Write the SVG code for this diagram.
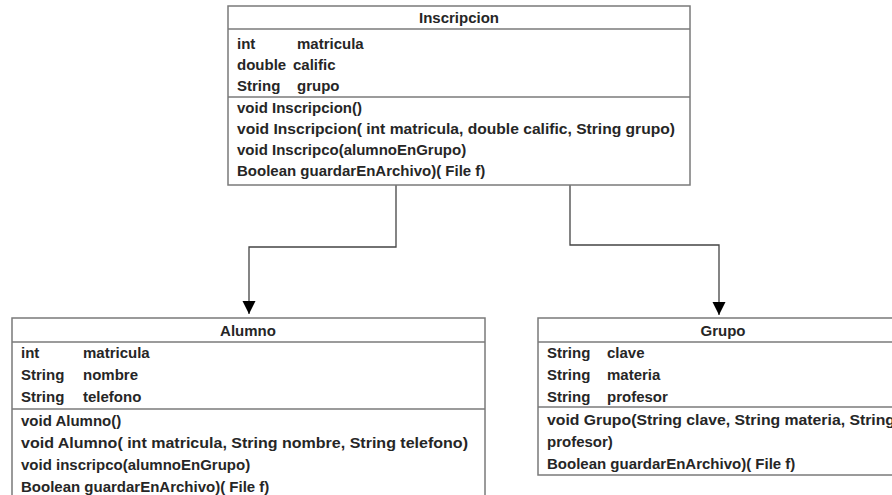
<svg xmlns="http://www.w3.org/2000/svg" width="892" height="495" viewBox="0 0 892 495">
<style>
.box{fill:#fff;stroke:#7a7a7a;stroke-width:1.5}
.sep{stroke:#7a7a7a;stroke-width:1.5}
text{font-family:"Liberation Sans",Arial,sans-serif;font-weight:bold;font-size:15px;fill:#262626}
.title{text-anchor:middle}
.conn{fill:none;stroke:#444;stroke-width:1.3}
</style>
<defs>
<marker id="arr" markerUnits="userSpaceOnUse" markerWidth="14" markerHeight="14" viewBox="0 0 14 14" refX="13" refY="7" orient="auto">
<path d="M0,0.5 L13,7 L0,13.5 Z" fill="#000"/>
</marker>
</defs>
<rect width="892" height="495" fill="#fff"/>
<g id="connectors">
<path class="conn" d="M396,185 V247 H249 V314" marker-end="url(#arr)"/>
<path class="conn" d="M570,185 V245 H719 V315" marker-end="url(#arr)"/>
</g>
<g id="Inscripcion">
<rect class="box" x="228" y="6" width="462" height="179"/>
<line class="sep" x1="228" y1="29" x2="690" y2="29"/>
<line class="sep" x1="228" y1="97" x2="690" y2="97"/>
<text class="title" x="459" y="23">Inscripcion</text>
<text x="237" y="49">int</text><text x="297" y="49">matricula</text>
<text x="237" y="70">double</text><text x="293" y="70">calific</text>
<text x="237" y="91">String</text><text x="297" y="91">grupo</text>
<text x="237" y="113">void Inscripcion()</text>
<text x="237" y="134" textLength="438" lengthAdjust="spacingAndGlyphs">void Inscripcion( int matricula, double calific, String grupo)</text>
<text x="237" y="155">void Inscripco(alumnoEnGrupo)</text>
<text x="237" y="176">Boolean guardarEnArchivo)( File f)</text>
</g>
<g id="Alumno">
<rect class="box" x="12" y="318" width="473" height="182"/>
<line class="sep" x1="12" y1="342" x2="485" y2="342"/>
<line class="sep" x1="12" y1="409" x2="485" y2="409"/>
<text class="title" x="248" y="336">Alumno</text>
<text x="21" y="358">int</text><text x="83" y="358">matricula</text>
<text x="21" y="380">String</text><text x="83" y="380">nombre</text>
<text x="21" y="402">String</text><text x="83" y="402">telefono</text>
<text x="21" y="426">void Alumno()</text>
<text x="21" y="448" textLength="447" lengthAdjust="spacingAndGlyphs">void Alumno( int matricula, String nombre, String telefono)</text>
<text x="21" y="470">void inscripco(alumnoEnGrupo)</text>
<text x="21" y="492">Boolean guardarEnArchivo)( File f)</text>
</g>
<g id="Grupo">
<rect class="box" x="538" y="318" width="370" height="157"/>
<line class="sep" x1="538" y1="342" x2="908" y2="342"/>
<line class="sep" x1="538" y1="407" x2="908" y2="407"/>
<text class="title" x="723" y="336">Grupo</text>
<text x="547" y="358">String</text><text x="607" y="358">clave</text>
<text x="547" y="380">String</text><text x="607" y="380">materia</text>
<text x="547" y="402">String</text><text x="607" y="402">profesor</text>
<text x="547" y="425" textLength="348" lengthAdjust="spacingAndGlyphs">void Grupo(String clave, String materia, String</text>
<text x="547" y="447">profesor)</text>
<text x="547" y="469">Boolean guardarEnArchivo)( File f)</text>
</g>
</svg>
